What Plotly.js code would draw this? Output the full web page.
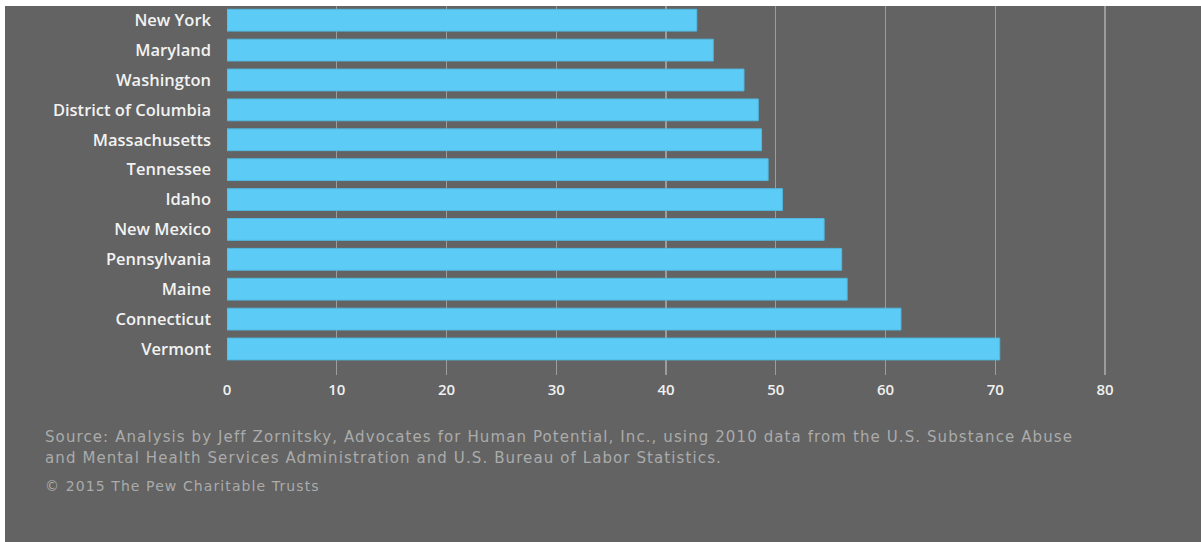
<!DOCTYPE html>
<html>
<head>
<meta charset="utf-8">
<script src="https://cdn.plot.ly/plotly-3.0.1.min.js"></script>
<style>
  html, body { margin: 0; padding: 0; background: #ffffff; width: 1201px; height: 542px; overflow: hidden; }
  #chart { position: absolute; left: 5px; top: 6px; width: 1196px; height: 536px; }
  #chart .annotation-text { letter-spacing: 1.1px; }
</style>
</head>
<body>
<div id="chart"></div>
<script>
// Data
const states = ["New York", "Maryland", "Washington", "District of Columbia", "Massachusetts",
                "Tennessee", "Idaho", "New Mexico", "Pennsylvania", "Maine", "Connecticut", "Vermont"];
const values = [42.8, 44.3, 47.1, 48.4, 48.7, 49.3, 50.6, 54.4, 56.0, 56.5, 61.4, 70.4];
const xTicks = [0, 10, 20, 30, 40, 50, 60, 70, 80];
const sourceLines = [
  "Source: Analysis by Jeff Zornitsky, Advocates for Human Potential, Inc., using 2010 data from the U.S. Substance Abuse",
  "and Mental Health Services Administration and U.S. Bureau of Labor Statistics."
];
const copyright = "© 2015 The Pew Charitable Trusts";

// Layout geometry (div coordinates)
const W = 1196, H = 536;
const M = { l: 222, r: 41, t: 0, b: 167 };
const plotW = W - M.l - M.r, plotH = H - M.t - M.b;
// page -> paper helpers (div offset 5,6)
const px = x => (x - 5 - M.l) / plotW;
const py = y => 1 - (y - 6 - M.t) / plotH;

const bg = "#626362";
const trace = {
  type: "bar",
  orientation: "h",
  y: states,
  x: values,
  marker: { color: "#5ccbf5", line: { color: "#52b8e0", width: 1 } },
  hoverinfo: "x+y"
};

const noteFont = { family: "DejaVu Sans, sans-serif", size: 15, color: "#ababab" };

const layout = {
  width: W, height: H,
  margin: M,
  paper_bgcolor: bg,
  plot_bgcolor: bg,
  bargap: 0.27,
  showlegend: false,
  font: { family: "Open Sans, sans-serif", color: "#f0f0f0" },
  xaxis: {
    range: [0, 85],
    tickvals: xTicks,
    ticktext: xTicks.map(String),
    showgrid: true,
    gridcolor: "#9c9c9c",
    gridwidth: 1.3,
    zeroline: false,
    showline: false,
    ticks: "",
    ticklabelstandoff: 4,
    tickfont: { family: "Open Sans, sans-serif", size: 15, color: "#f0f0f0", weight: 600 },
    fixedrange: true
  },
  yaxis: {
    type: "category",
    categoryorder: "array",
    categoryarray: states,
    range: [11.87, -0.475],
    showgrid: false,
    zeroline: false,
    showline: false,
    ticks: "",
    ticklabelstandoff: 15,
    tickfont: { family: "Open Sans, sans-serif", size: 16.5, color: "#f2f2f2", weight: 600 },
    fixedrange: true
  },
  annotations: [
    { xref: "paper", yref: "paper", x: px(43), y: py(437), xanchor: "left", yanchor: "middle", align: "left",
      text: sourceLines[0], showarrow: false, font: noteFont },
    { xref: "paper", yref: "paper", x: px(43), y: py(458), xanchor: "left", yanchor: "middle", align: "left",
      text: sourceLines[1], showarrow: false, font: noteFont },
    { xref: "paper", yref: "paper", x: px(43), y: py(486), xanchor: "left", yanchor: "middle", align: "left",
      text: copyright, showarrow: false, font: Object.assign({}, noteFont, { size: 14 }) }
  ]
};

Plotly.newPlot("chart", [trace], layout, { displayModeBar: false, staticPlot: true });
</script>
</body>
</html>
